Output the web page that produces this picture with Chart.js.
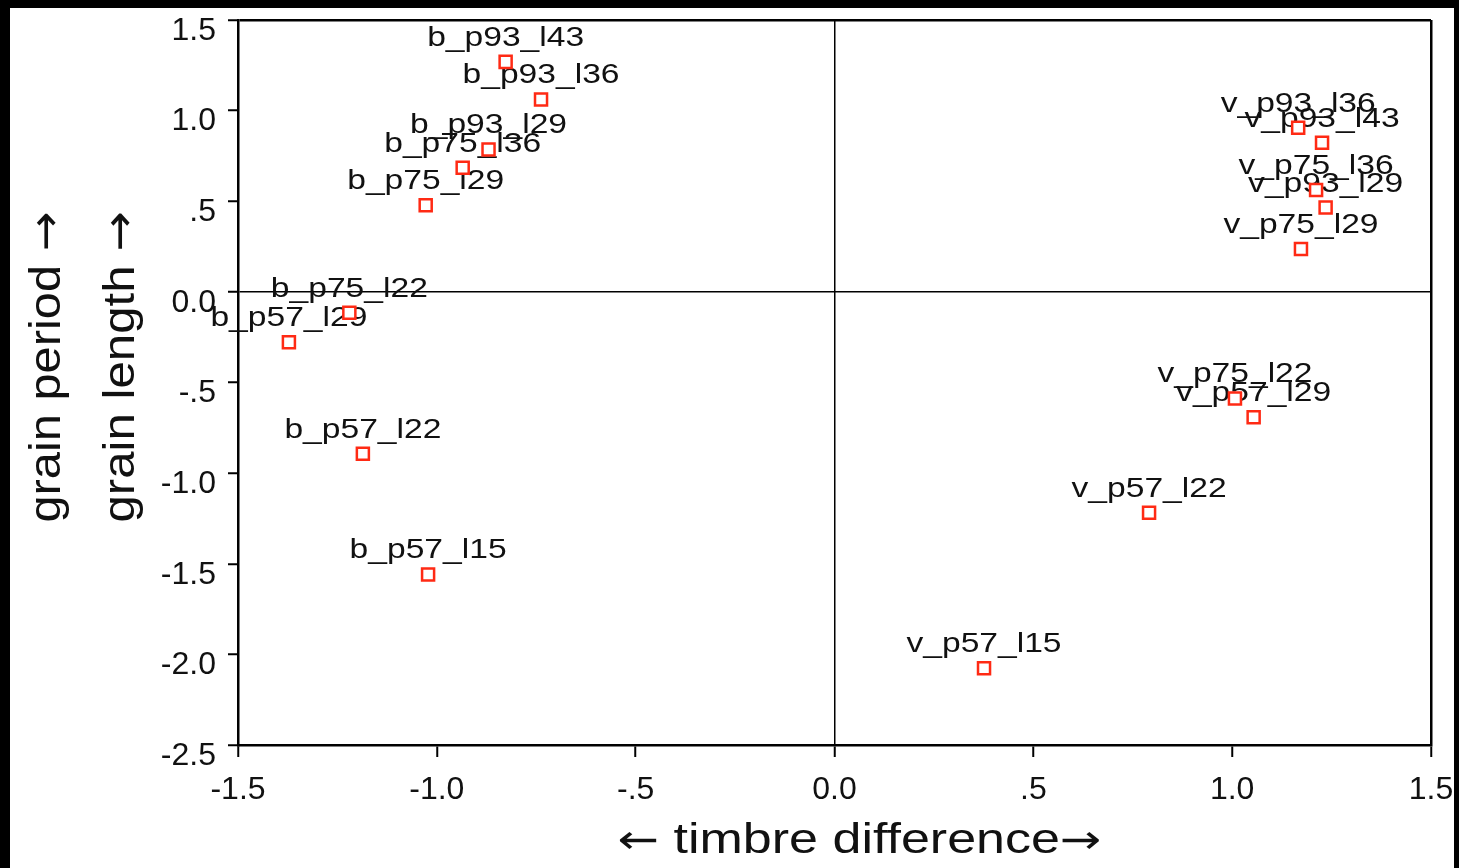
<!DOCTYPE html>
<html>
<head>
<meta charset="utf-8">
<title>timbre vs grain</title>
<script src="https://cdn.jsdelivr.net/npm/chart.js@4.4.1/dist/chart.umd.min.js"></script>
<style>
  html, body { margin: 0; background: #000; }
  #wrap { position: absolute; left: 10px; top: 8px; width: 1444px; height: 860px; background: #fff; }
</style>
</head>
<body>
<div id="wrap"><canvas id="plot"></canvas></div>
<script>
// stimulus names and their positions on the two dimensions
const names = [
  "b_p93_l43", "b_p93_l36", "b_p93_l29", "b_p75_l36", "b_p75_l29",
  "b_p75_l22", "b_p57_l29", "b_p57_l22", "b_p57_l15",
  "v_p93_l36", "v_p93_l43", "v_p75_l36", "v_p93_l29", "v_p75_l29",
  "v_p75_l22", "v_p57_l29", "v_p57_l22", "v_p57_l15"
];
const timbre = [
  -0.827, -0.738, -0.870, -0.935, -1.028,
  -1.220, -1.372, -1.186, -1.022,
   1.166,  1.226,  1.211,  1.235,  1.173,
   1.007,  1.054,  0.791,  0.376
];
const grain = [
   1.269,  1.062,  0.786,  0.685,  0.478,
  -0.115, -0.278, -0.893, -1.559,
   0.905,  0.823,  0.562,  0.465,  0.237,
  -0.588, -0.692, -1.219, -2.077
];

const xTickLabels = ["-1.5", "-1.0", "-.5", "0.0", ".5", "1.0", "1.5"];
const yTickLabels = ["-2.5", "-2.0", "-1.5", "-1.0", "-.5", "0.0", ".5", "1.0", "1.5"];
const xTitle = "timbre difference";
const yTitles = ["grain period", "grain length"];
const LEFT_ARROW = "\u2190", RIGHT_ARROW = "\u2192";

const FONT = '"Liberation Sans", Arial, Helvetica, sans-serif';
const ARROW_FONT = '"DejaVu Sans", sans-serif';

// heavy frame on the max edges, thin cross lines through zero
const frameColor = c => (c.tick && (c.tick.value === 0 || c.tick.value === 1.5)) ? "#000" : "rgba(0,0,0,0)";
const frameWidth = c => (c.tick && c.tick.value === 0) ? 1.5 : 2.5;

// a row of text pieces (own font each), centred on x,y and fitted to a length
function drawParts(ctx, parts, x, y, width, angle) {
  const widths = parts.map(p => { ctx.font = p.font; return ctx.measureText(p.text).width; });
  const total = widths.reduce((s, w) => s + w, 0);
  ctx.save();
  ctx.translate(x, y);
  ctx.rotate(angle);
  ctx.scale(width / total, 1);
  ctx.textAlign = "left";
  let cx = -total / 2;
  parts.forEach((p, i) => {
    ctx.font = p.font;
    ctx.fillText(p.text, cx, 0);
    cx += widths[i];
  });
  ctx.restore();
}

// name above each marker, markers are painted on top afterwards
const pointLabels = {
  id: "pointLabels",
  beforeDatasetsDraw(chart) {
    const { ctx } = chart;
    const meta = chart.getDatasetMeta(0);
    ctx.save();
    ctx.font = "28px " + FONT;
    ctx.fillStyle = "#111";
    ctx.textAlign = "center";
    ctx.textBaseline = "alphabetic";
    meta.data.forEach((pt, i) => {
      ctx.save();
      ctx.translate(pt.x, pt.y - 16);
      ctx.scale(1.2, 1);
      ctx.fillText(names[i], 0, 0);
      ctx.restore();
    });
    ctx.restore();
  }
};

const axisTitles = {
  id: "axisTitles",
  afterDraw(chart) {
    const { ctx, chartArea: a } = chart;
    ctx.save();
    ctx.fillStyle = "#111";
    ctx.textBaseline = "alphabetic";
    const tf = "42px " + FONT, af = "40px " + ARROW_FONT;
    drawParts(ctx, [
      { text: LEFT_ARROW, font: af },
      { text: " " + xTitle, font: tf },
      { text: RIGHT_ARROW, font: af }
    ], (a.left + a.right) / 2 + 25, a.bottom + 108, 484, 0);

    const vf = "45px " + FONT, vaf = "44px " + ARROW_FONT;
    const midY = a.top + 347;
    [50, 124].forEach((bx, i) => {
      drawParts(ctx, [
        { text: yTitles[i] + " ", font: vf },
        { text: RIGHT_ARROW, font: vaf }
      ], bx, midY, 311, -Math.PI / 2);
    });
    ctx.restore();
  }
};

new Chart(document.getElementById("plot"), {
  type: "scatter",
  data: {
    datasets: [{
      data: names.map((n, i) => ({ x: timbre[i], y: grain[i] })),
      pointStyle: "rect",
      pointRadius: 8.5,
      pointHoverRadius: 8.5,
      borderColor: "#ff2a14",
      backgroundColor: "#fff",
      borderWidth: 2.5
    }]
  },
  options: {
    responsive: true,
    maintainAspectRatio: false,
    animation: false,
    events: [],
    layout: { padding: { top: 12, right: 23, left: 0, bottom: 0 } },
    plugins: { legend: { display: false }, tooltip: { enabled: false } },
    scales: {
      x: {
        type: "linear", min: -1.5, max: 1.5,
        ticks: {
          stepSize: 0.5, autoSkip: false, maxRotation: 0, padding: 14,
          color: "#111", font: { family: FONT, size: 32 },
          callback: (v, i) => xTickLabels[i]
        },
        grid: { color: frameColor, lineWidth: frameWidth, tickLength: 12, tickColor: "#000", tickWidth: 2 },
        border: { display: true, color: "#000", width: 2.5 },
        afterFit: s => { s.height = 123; s.paddingLeft = 0; s.paddingRight = 0; }
      },
      y: {
        type: "linear", min: -2.5, max: 1.5,
        ticks: {
          stepSize: 0.5, autoSkip: false, padding: 12, labelOffset: 11,
          color: "#111", font: { family: FONT, size: 32 },
          callback: (v, i) => yTickLabels[i]
        },
        grid: { color: frameColor, lineWidth: frameWidth, tickLength: 10, tickColor: "#000", tickWidth: 2 },
        border: { display: true, color: "#000", width: 2.5 },
        afterFit: s => { s.width = 228; s.paddingTop = 0; s.paddingBottom = 0; }
      }
    }
  },
  plugins: [pointLabels, axisTitles]
});
</script>
</body>
</html>
